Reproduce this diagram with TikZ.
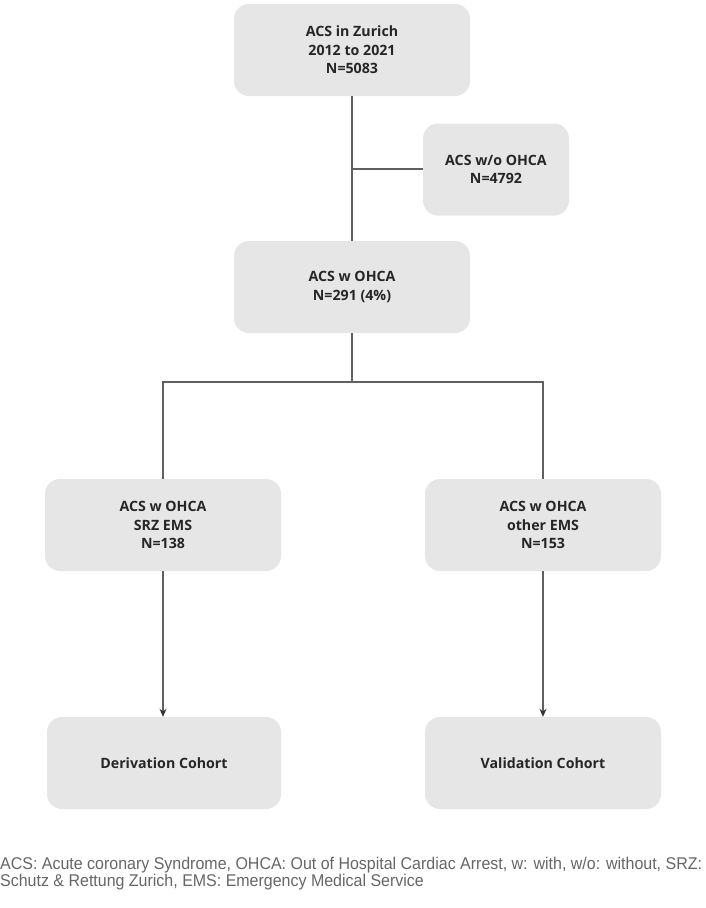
\documentclass[tikz,border=0pt]{standalone}
\usepackage{fontspec}
\setmainfont{Liberation Sans}
\newfontfamily\boxfont{Open Sans}
\newfontfamily\notefont[FakeStretch=0.94]{Liberation Sans}
\usetikzlibrary{arrows.meta}
\definecolor{boxgray}{HTML}{E6E6E6}
\definecolor{linegray}{HTML}{606060}
\definecolor{notegray}{HTML}{666666}
\begin{document}
\begin{tikzpicture}[x=1pt,y=-1pt,
  flowbox/.style={fill=boxgray, draw=none, rounded corners=15pt, minimum height=92pt,
    align=center, font=\boxfont\bfseries\fontsize{14.2}{18.4}\selectfont, text=black!85, inner sep=0pt},
  conn/.style={draw=linegray, line width=1.1pt},
  arr/.style={conn, -{Stealth[length=8pt,width=7pt,color=black!80]}}]
\useasboundingbox (0,0) rectangle (706,908);
\node[flowbox, minimum width=236pt] (top) at (352,50) {ACS in Zurich\\2012 to 2021\\N=5083};
\node[flowbox, minimum width=146pt] (excl) at (496,169.5) {ACS w/o OHCA\\N=4792};
\node[flowbox, minimum width=236pt] (ohca) at (352,287) {ACS w OHCA\\N=291 (4\%)};
\node[flowbox, minimum width=236pt] (srz) at (163,525) {ACS w OHCA\\SRZ EMS\\N=138};
\node[flowbox, minimum width=236pt] (other) at (543,525) {ACS w OHCA\\other EMS\\N=153};
\node[flowbox, minimum width=234pt] (deriv) at (164,763) {Derivation Cohort};
\node[flowbox, minimum width=236pt] (valid) at (543,763) {Validation Cohort};
\coordinate (split) at (352,169);
\coordinate (fork) at (352,382);
\draw[conn] (top.south) -- (ohca.north);
\draw[conn] (split) -- (excl.west |- split);
\draw[conn] (ohca.south) -- (fork);
\draw[conn] (fork) -| (srz.north);
\draw[conn] (fork) -| (other.north);
\draw[arr] (srz.south) -- (srz.south |- deriv.north);
\draw[arr] (other.south) -- (valid.north);
\node[anchor=base west, inner sep=0pt, align=left, text=notegray,
  font=\notefont\fontsize{17}{16.7}\selectfont] (note) at (0,886)
  {ACS: Acute coronary Syndrome, OHCA: Out of Hospital Cardiac Arrest, w: with, w/o: without, SRZ:\\Schutz \& Rettung Zurich, EMS: Emergency Medical Service};
\end{tikzpicture}
\end{document}
